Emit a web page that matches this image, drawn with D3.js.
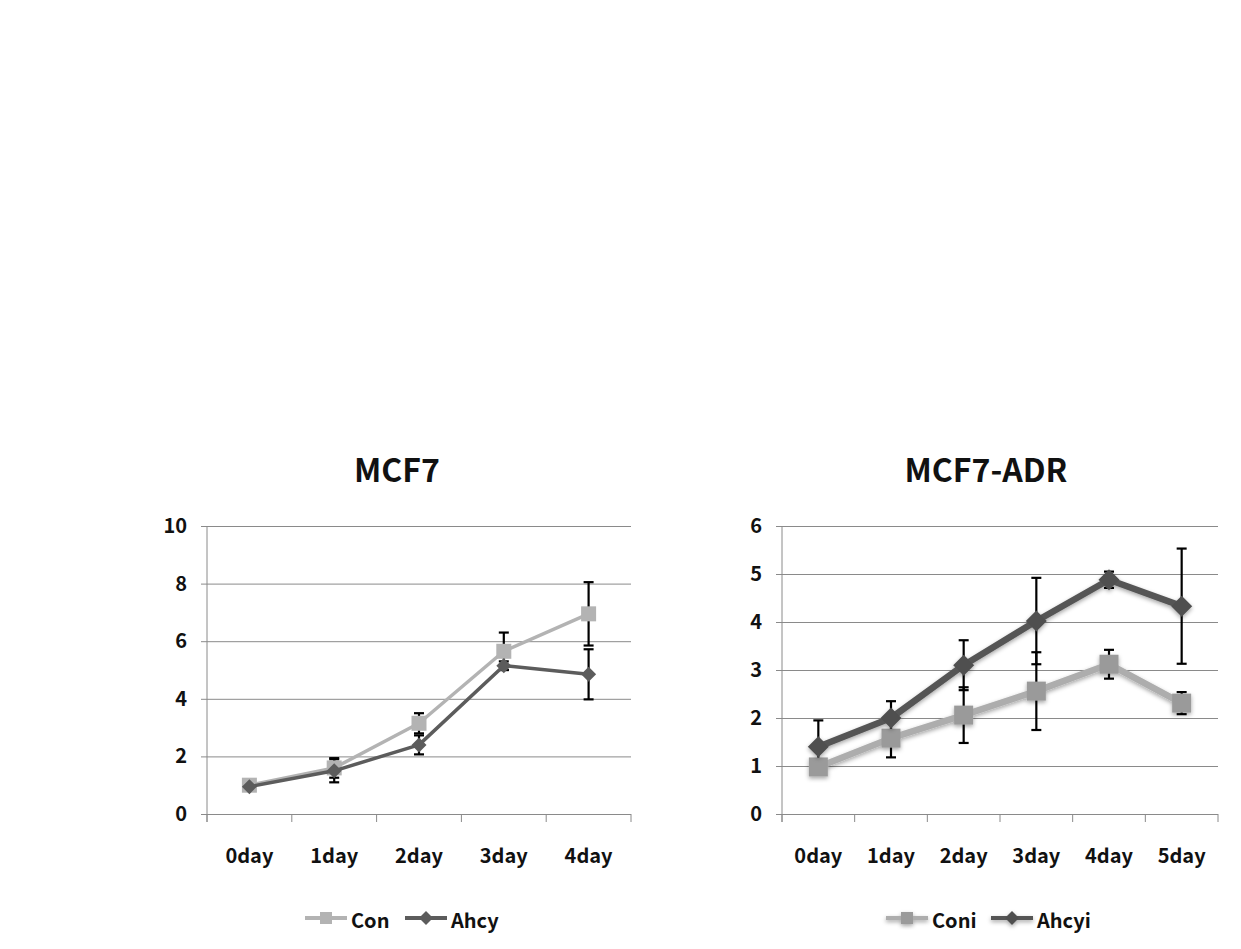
<!DOCTYPE html>
<html>
<head>
<meta charset="utf-8">
<script src="https://cdn.jsdelivr.net/npm/d3@7"></script>
<style>
  html, body { margin: 0; padding: 0; background: #fff; }
  svg { display: block; }
  text { font-family: "Noto Sans CJK KR", "Noto Sans", sans-serif; }
</style>
</head>
<body>
<svg id="chart" width="1241" height="949"></svg>
<script>
// ---------- DATA ----------
const mcf7Title = "MCF7";
const mcf7Days = ["0day", "1day", "2day", "3day", "4day"];
const mcf7Con = [1.0, 1.6, 3.15, 5.65, 6.95];
const mcf7ConErr = [0.05, 0.34, 0.35, 0.65, 1.1];
const mcf7Ahcy = [0.95, 1.5, 2.4, 5.15, 4.85];
const mcf7AhcyErr = [0.05, 0.4, 0.33, 0.15, 0.87];
const mcf7YTicks = [0, 2, 4, 6, 8, 10];
const mcf7Names = ["Con", "Ahcy"];

const adrTitle = "MCF7-ADR";
const adrDays = ["0day", "1day", "2day", "3day", "4day", "5day"];
const adrConi = [0.98, 1.58, 2.06, 2.56, 3.12, 2.31];
const adrConiErr = [0.1, 0.4, 0.58, 0.81, 0.3, 0.23];
const adrAhcyi = [1.4, 2.0, 3.1, 4.02, 4.88, 4.33];
const adrAhcyiErr = [0.55, 0.35, 0.52, 0.9, 0.17, 1.2];
const adrYTicks = [0, 1, 2, 3, 4, 5, 6];
const adrNames = ["Coni", "Ahcyi"];

// ---------- DRAW ----------
const svg = d3.select("#chart");
const defs = svg.append("defs");
const f = defs.append("filter").attr("id", "soft").attr("x", "-50%").attr("y", "-50%").attr("width", "200%").attr("height", "200%");
f.append("feDropShadow").attr("dx", 0).attr("dy", 2).attr("stdDeviation", 2)
  .attr("flood-color", "#000").attr("flood-opacity", 0.35);

const gridColor = "#8a8a8a";
const fontFam = '"Noto Sans CJK KR", "Noto Sans", sans-serif';

function drawChart(cfg) {
  const g = svg.append("g");
  const x = d3.scaleBand().domain(cfg.days).range([cfg.x0, cfg.x1]).padding(0);
  const y = d3.scaleLinear().domain([0, d3.max(cfg.yTicks)]).range([cfg.y1, cfg.y0]);
  const cx = d => x(d) + x.bandwidth() / 2;

  // title
  g.append("text").attr("x", cfg.titleX).attr("y", 482)
    .attr("text-anchor", "middle").attr("font-size", 32).attr("font-weight", "bold")
    .attr("fill", "#111").text(cfg.title);

  // gridlines (with small left tick)
  const grid = g.append("g").attr("transform", `translate(${cfg.x0 - 6},0)`)
    .call(d3.axisLeft(y).tickValues(cfg.yTicks).tickSize(-(cfg.x1 - cfg.x0 + 6)).tickFormat(""));
  grid.select(".domain").remove();
  grid.selectAll("line").attr("stroke", gridColor).attr("stroke-width", 1);

  // y labels
  const yl = g.append("g").attr("transform", `translate(${cfg.x0},0)`)
    .call(d3.axisLeft(y).tickValues(cfg.yTicks).tickFormat(d3.format("d")).tickSize(0).tickPadding(20));
  yl.select(".domain").remove();
  yl.selectAll("text").attr("font-size", 20).attr("font-weight", "bold").attr("fill", "#111")
    .attr("font-family", fontFam);

  // y axis line
  g.append("line").attr("x1", cfg.x0).attr("x2", cfg.x0).attr("y1", cfg.y0).attr("y2", cfg.y1 + 8)
    .attr("stroke", gridColor).attr("stroke-width", 1);
  // x axis tick marks at band edges
  const edges = cfg.days.map(d => x(d)).concat([cfg.x1]);
  g.selectAll(".xt").data(edges).enter().append("line")
    .attr("x1", d => d).attr("x2", d => d).attr("y1", cfg.y1).attr("y2", cfg.y1 + 8)
    .attr("stroke", gridColor).attr("stroke-width", 1);

  // x labels
  const xl = g.append("g").attr("transform", `translate(0,${cfg.y1})`)
    .call(d3.axisBottom(x).tickSize(0).tickPadding(35));
  xl.select(".domain").remove();
  xl.selectAll("text").attr("font-size", 20).attr("font-weight", "bold").attr("fill", "#111")
    .attr("font-family", fontFam);

  const series = [
    { vals: cfg.s1, err: cfg.e1, color: cfg.c1, mcolor: cfg.m1, shape: "square" },
    { vals: cfg.s2, err: cfg.e2, color: cfg.c2, mcolor: cfg.m2, shape: "diamond" }
  ];

  // error bars (behind markers)
  series.forEach(s => {
    const eg = g.append("g");
    cfg.days.forEach((d, i) => {
      const hi = y(s.vals[i] + s.err[i]), lo = y(s.vals[i] - s.err[i]);
      eg.append("line").attr("x1", cx(d)).attr("x2", cx(d)).attr("y1", hi).attr("y2", lo)
        .attr("stroke", "#000").attr("stroke-width", 2.2);
      [hi, lo].forEach(yy => eg.append("line").attr("x1", cx(d) - 5).attr("x2", cx(d) + 5)
        .attr("y1", yy).attr("y2", yy).attr("stroke", "#000").attr("stroke-width", 2.2));
    });
  });

  // lines and markers
  series.forEach(s => {
    const sg = g.append("g");
    if (cfg.soft) sg.attr("filter", "url(#soft)");
    const line = d3.line().x((v, i) => cx(cfg.days[i])).y(v => y(v));
    sg.append("path").datum(s.vals).attr("d", line).attr("fill", "none")
      .attr("stroke", s.color).attr("stroke-width", cfg.lw).attr("stroke-linejoin", "round");
    s.vals.forEach((v, i) => {
      const px = cx(cfg.days[i]), py = y(v);
      if (s.shape === "square") {
        sg.append("rect").attr("x", px - cfg.sq / 2).attr("y", py - cfg.sq / 2)
          .attr("width", cfg.sq).attr("height", cfg.sq).attr("fill", s.mcolor);
      } else {
        const r = cfg.dm / 2;
        sg.append("path").attr("d", `M${px},${py - r}L${px + r},${py}L${px},${py + r}L${px - r},${py}Z`)
          .attr("fill", s.mcolor);
      }
    });
  });

  // legend
  const lg = g.append("g");
  const ly = 918;
  cfg.legend.forEach((L, k) => {
    const s = series[k];
    const ig = lg.append("g");
    if (cfg.soft) ig.attr("filter", "url(#soft)");
    ig.append("line").attr("x1", L.x).attr("x2", L.x + 42).attr("y1", ly).attr("y2", ly)
      .attr("stroke", s.color).attr("stroke-width", 4);
    const mx = L.x + 21;
    if (s.shape === "square") {
      ig.append("rect").attr("x", mx - 6).attr("y", ly - 6).attr("width", 12).attr("height", 12).attr("fill", s.mcolor);
    } else {
      ig.append("path").attr("d", `M${mx},${ly - 7}L${mx + 7},${ly}L${mx},${ly + 7}L${mx - 7},${ly}Z`).attr("fill", s.mcolor);
    }
    lg.append("text").attr("x", L.x + 46).attr("y", ly + 10).attr("font-size", 20)
      .attr("font-weight", "bold").attr("fill", "#111").text(L.name);
  });
}

drawChart({
  title: mcf7Title, titleX: 397, days: mcf7Days, yTicks: mcf7YTicks,
  x0: 207, x1: 631, y0: 526, y1: 814,
  s1: mcf7Con, e1: mcf7ConErr, s2: mcf7Ahcy, e2: mcf7AhcyErr,
  c1: "#b3b3b3", m1: "#b3b3b3", c2: "#5c5c5c", m2: "#5c5c5c",
  lw: 3.5, sq: 15, dm: 15, soft: false,
  legend: [{ x: 305, name: mcf7Names[0] }, { x: 405, name: mcf7Names[1] }]
});

drawChart({
  title: adrTitle, titleX: 986, days: adrDays, yTicks: adrYTicks,
  x0: 782, x1: 1218, y0: 526, y1: 814,
  s1: adrConi, e1: adrConiErr, s2: adrAhcyi, e2: adrAhcyiErr,
  c1: "#adadad", m1: "#9a9a9a", c2: "#555555", m2: "#505050",
  lw: 6.5, sq: 19, dm: 21, soft: true,
  legend: [{ x: 886, name: adrNames[0] }, { x: 991, name: adrNames[1] }]
});
</script>
</body>
</html>
